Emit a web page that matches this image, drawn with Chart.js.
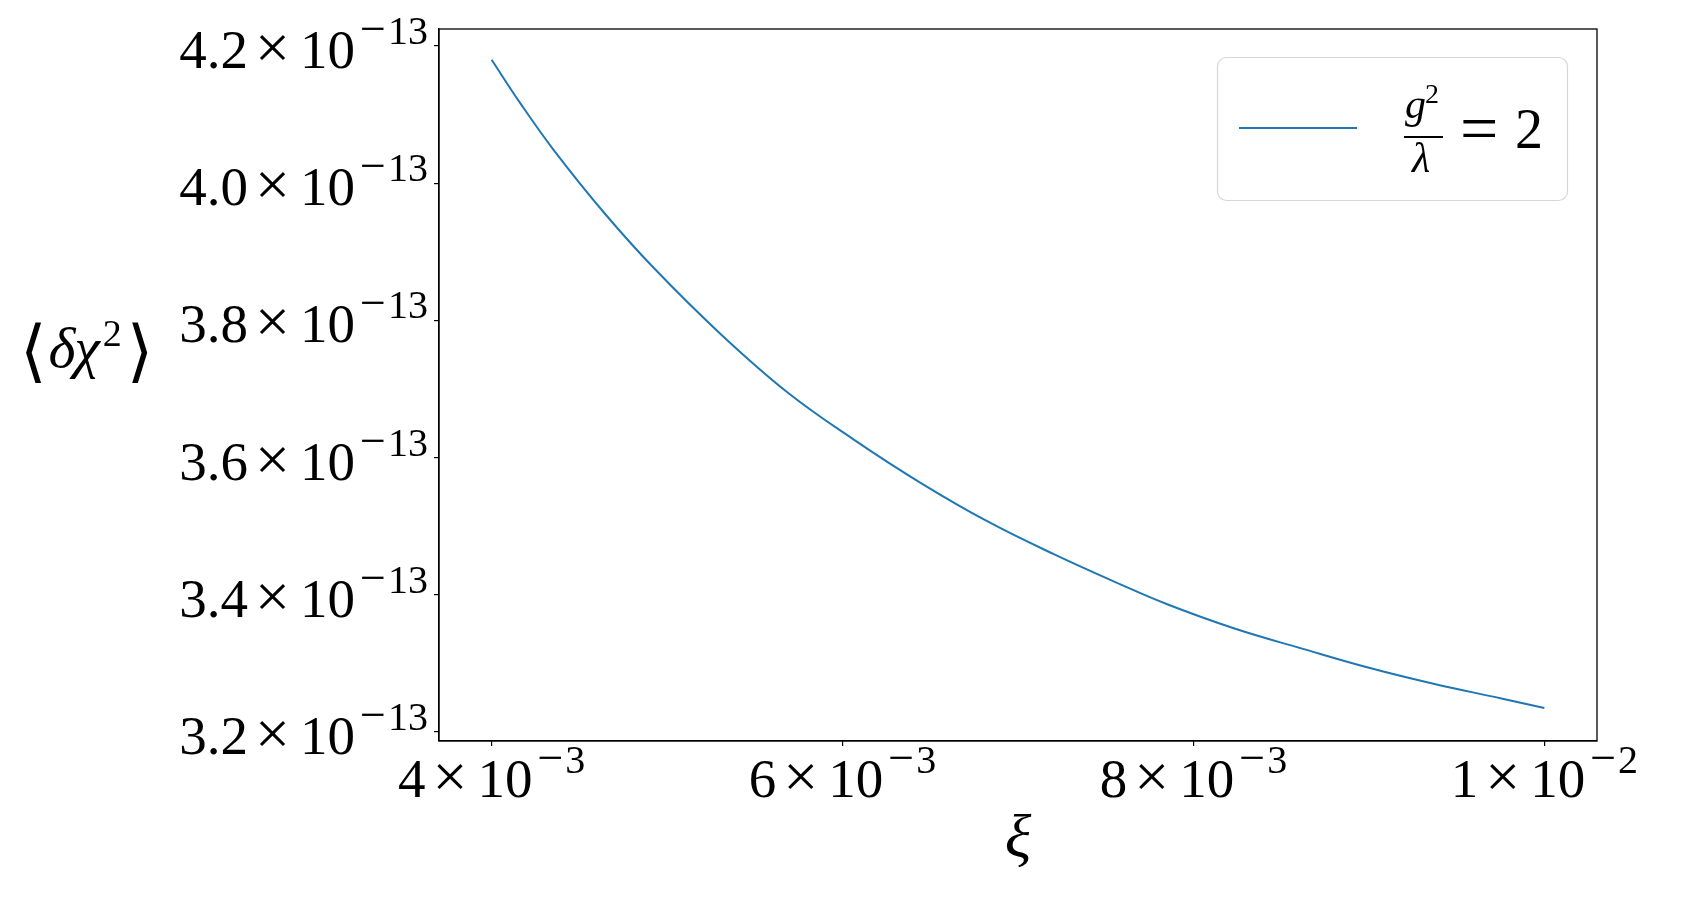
<!DOCTYPE html>
<html>
<head>
<meta charset="utf-8">
<script src="https://cdn.jsdelivr.net/npm/chart.js@4.4.1/dist/chart.umd.min.js"></script>
<style>
  html, body { margin: 0; padding: 0; background: #fff; }
  #wrap { width: 1706px; height: 900px; position: relative; }
</style>
</head>
<body>
<div id="wrap"><canvas id="chart"></canvas></div>
<script>
// values
const xi = [0.004, 0.004165, 0.004355, 0.004641, 0.004926, 0.005306, 0.005687, 0.006066, 0.006447, 0.006827,
            0.007207, 0.007587, 0.007854, 0.008234, 0.008614, 0.008995, 0.009374, 0.009755, 0.010];
const dchi2 = [4.180e-13, 4.116e-13, 4.048e-13, 3.957e-13, 3.876e-13, 3.780e-13, 3.695e-13, 3.626e-13, 3.563e-13, 3.507e-13,
               3.459e-13, 3.415e-13, 3.386e-13, 3.351e-13, 3.322e-13, 3.294e-13, 3.270e-13, 3.249e-13, 3.235e-13];

const xTicks = [0.004, 0.006, 0.008, 0.010];
const xTickMant = ['4', '6', '8', '1'];
const xTickExp = ['3', '3', '3', '2'];

const yTicks = [3.2e-13, 3.4e-13, 3.6e-13, 3.8e-13, 4.0e-13, 4.2e-13];
const yTickMant = ['3.2', '3.4', '3.6', '3.8', '4.0', '4.2'];
const yTickExp = ['13', '13', '13', '13', '13', '13'];

const LINE_COLOR = '#1f77b4';
const SERIF = '"Liberation Serif", "DejaVu Serif", serif';
const MAIN = '55px ' + SERIF;

// mantissa × 10^(−exp), drawn piece by piece
function drawSci(ctx, mant, exp, x, base, align) {
  let parts = [
    {t: mant, f: MAIN, dy: 0, gap: 7},
    {t: '\u00d7', f: '62px ' + SERIF, dy: 0, gap: 10},
    {t: '10', f: MAIN, dy: 0, gap: 5},
    {t: '\u2212', f: '46px ' + SERIF, dy: -24, gap: 2},
    {t: exp, f: '40px ' + SERIF, dy: -24, gap: 0}
  ];
  let total = 0;
  parts.forEach(p => {
    ctx.font = p.f;
    p.w = ctx.measureText(p.t).width;
    total += p.w + p.gap;
  });
  let cx = align == 'center' ? x - total / 2 : x - total;
  ctx.textAlign = 'left';
  ctx.textBaseline = 'alphabetic';
  parts.forEach(p => {
    ctx.font = p.f;
    ctx.fillText(p.t, cx, base + p.dy);
    cx += p.w + p.gap;
  });
}

const decor = {
  id: 'decor',
  afterDraw(chart) {
    const {ctx, chartArea: a, scales} = chart;
    ctx.save();
    ctx.fillStyle = '#000';

    // axes box
    ctx.strokeStyle = '#000';
    ctx.lineWidth = 1.3;
    ctx.strokeRect(a.left, a.top, a.right - a.left, a.bottom - a.top);

    xTicks.forEach((v, i) => {
      drawSci(ctx, xTickMant[i], xTickExp[i], scales.x.getPixelForValue(v), 797, 'center');
    });
    yTicks.forEach((v, i) => {
      drawSci(ctx, yTickMant[i], yTickExp[i], a.left - 11, scales.y.getPixelForValue(v) + 22, 'right');
    });

    // x label
    ctx.textAlign = 'center';
    ctx.textBaseline = 'alphabetic';
    ctx.font = 'italic 62px ' + SERIF;
    ctx.fillText('\u03be', (a.left + a.right) / 2, 857);

    // y label, horizontal
    ctx.textAlign = 'left';
    let cx = 20;
    ctx.font = '68px ' + SERIF;
    ctx.fillText('\u27e8', cx, 374);
    cx += ctx.measureText('\u27e8').width + 2;
    ctx.font = 'italic 58px ' + SERIF;
    ctx.fillText('\u03b4\u03c7', cx, 367);
    cx += ctx.measureText('\u03b4\u03c7').width + 3;
    ctx.font = '38px ' + SERIF;
    ctx.fillText('2', cx, 346);
    cx += ctx.measureText('2').width + 5;
    ctx.font = '68px ' + SERIF;
    ctx.fillText('\u27e9', cx, 374);

    // legend
    ctx.beginPath();
    ctx.roundRect(1217.5, 57.5, 350, 143, 9);
    ctx.fillStyle = 'rgba(255,255,255,0.8)';
    ctx.fill();
    ctx.strokeStyle = '#d6d6d6';
    ctx.lineWidth = 1.2;
    ctx.stroke();

    ctx.strokeStyle = chart.data.datasets[0].borderColor;
    ctx.lineWidth = 2;
    ctx.beginPath();
    ctx.moveTo(1239, 128);
    ctx.lineTo(1357, 128);
    ctx.stroke();

    ctx.fillStyle = '#000';
    ctx.font = 'italic 42px ' + SERIF;
    ctx.fillText('g', 1405, 118);
    ctx.font = '28px ' + SERIF;
    ctx.fillText('2', 1425, 103);
    ctx.fillRect(1404, 136, 39, 2);
    ctx.font = 'italic 42px ' + SERIF;
    ctx.fillText('\u03bb', 1412, 172);
    ctx.font = '68px ' + SERIF;
    ctx.fillText('=', 1460, 151);
    ctx.font = '56px ' + SERIF;
    ctx.fillText('2', 1515, 148);
    ctx.restore();
  }
};

const tickGrid = {display: true, drawOnChartArea: false, drawTicks: true, tickLength: 5, color: '#000', lineWidth: 1.2};

new Chart(document.getElementById('chart'), {
  type: 'line',
  data: {
    datasets: [{
      label: 'g^2/lambda = 2',
      data: xi.map((x, i) => ({x: x, y: dchi2[i]})),
      borderColor: LINE_COLOR,
      borderWidth: 2,
      pointRadius: 0,
      fill: false,
      tension: 0.4
    }]
  },
  options: {
    responsive: true,
    maintainAspectRatio: false,
    animation: false,
    layout: {padding: {top: 29, right: 109, left: 0, bottom: 0}},
    plugins: {legend: {display: false}, tooltip: {enabled: false}},
    scales: {
      x: {
        type: 'linear',
        min: 0.0037,
        max: 0.0103,
        grid: tickGrid,
        border: {display: true, color: '#000', width: 1.3},
        ticks: {display: false},
        afterBuildTicks: s => { s.ticks = xTicks.map(v => ({value: v})); },
        afterFit: s => { s.height = 159; }
      },
      y: {
        type: 'linear',
        min: 3.187e-13,
        max: 4.2248e-13,
        grid: tickGrid,
        border: {display: true, color: '#000', width: 1.3},
        ticks: {display: false},
        afterBuildTicks: s => { s.ticks = yTicks.map(v => ({value: v})); },
        afterFit: s => { s.width = 439; }
      }
    }
  },
  plugins: [decor]
});
</script>
</body>
</html>
